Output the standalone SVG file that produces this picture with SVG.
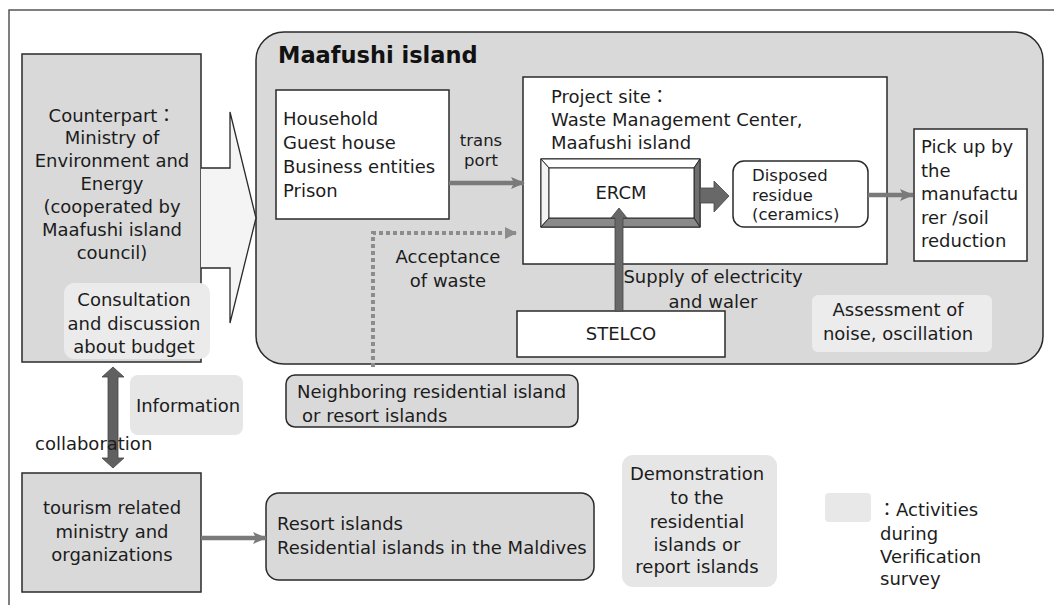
<svg xmlns="http://www.w3.org/2000/svg" width="1054" height="605" viewBox="0 0 1054 605">
  <style>
    .t { font-family: "DejaVu Sans", "Noto Sans CJK JP", sans-serif; font-size: 18px; fill: #1c1c1c; }
    .s { font-size: 16.5px; }
    .c { text-anchor: middle; }
    .title { font-family: "DejaVu Sans", sans-serif; font-size: 22.5px; font-weight: bold; fill: #111; }
    .box { stroke: #2a2a2a; stroke-width: 1.5; }
    .gray { fill: #d9d9d9; }
    .white { fill: #ffffff; }
    .act { fill: #ebebeb; stroke: none; }
    .flow { fill: none; stroke: #7a7a7a; stroke-width: 4.5; }
    .dotted { fill: none; stroke: #8c8c8c; stroke-width: 4; stroke-dasharray: 4 3; }
    .solid { fill: #686868; stroke: #444; stroke-width: 0.8; }
  </style>
  <defs>
    <marker id="ah" viewBox="0 0 14 12" refX="13" refY="6" markerWidth="14" markerHeight="12" markerUnits="userSpaceOnUse" orient="auto">
      <path d="M0,0 L14,6 L0,12 L3,6 Z" fill="#7a7a7a"/>
    </marker>
    <marker id="ahd" viewBox="0 0 12 12" refX="11" refY="6" markerWidth="12" markerHeight="12" markerUnits="userSpaceOnUse" orient="auto">
      <path d="M0,0 L12,6 L0,12 Z" fill="#8c8c8c"/>
    </marker>
  </defs>

  <rect width="1054" height="605" fill="#ffffff"/>
  <!-- outer frame -->
  <polyline points="1054,10 9,10 9,605" fill="none" stroke="#555" stroke-width="1.5"/>

  <!-- Maafushi island area -->
  <g id="maafushi">
    <rect x="256" y="32" width="787" height="332" rx="28" class="box gray"/>
    <text x="278" y="63" class="title">Maafushi island</text>
  </g>

  <!-- counterpart ministry -->
  <g id="counterpart">
    <rect x="22" y="54" width="179" height="308" class="box gray"/>
    <text class="t c" x="112" y="122">Counterpart：</text>
    <text class="t c" x="112" y="144">Ministry of</text>
    <text class="t c" x="112" y="167">Environment and</text>
    <text class="t c" x="112" y="190">Energy</text>
    <text class="t c" x="112" y="213">(cooperated by</text>
    <text class="t c" x="112" y="236">Maafushi island</text>
    <text class="t c" x="112" y="259">council)</text>
  </g>

  <!-- consultation activity -->
  <g id="consultation">
    <rect x="64" y="283" width="146" height="76" rx="10" class="act"/>
    <text class="t c" x="134" y="306">Consultation</text>
    <text class="t c" x="134" y="330">and discussion</text>
    <text class="t c" x="134" y="353">about budget</text>
  </g>

  <!-- chevron from counterpart into the island -->
  <g id="chevron">
    <polygon points="201,168 230,168 230,112 256,218 230,323 230,268 201,268" fill="#f4f4f4" stroke="none"/>
    <polyline points="201,168 230,168 230,112 256,218 230,323 230,268 201,268" fill="none" stroke="#2a2a2a" stroke-width="1.3"/>
  </g>

  <!-- waste sources -->
  <g id="sources">
    <rect x="276" y="90" width="173" height="129" class="box white"/>
    <text class="t" x="283" y="125">Household</text>
    <text class="t" x="283" y="149">Guest house</text>
    <text class="t" x="283" y="173">Business entities</text>
    <text class="t" x="283" y="197">Prison</text>
  </g>

  <!-- project site -->
  <g id="project-site">
    <rect x="523" y="77" width="364" height="187" class="box white"/>
    <text class="t" x="551" y="103">Project site：</text>
    <text class="t" x="551" y="126">Waste Management Center,</text>
    <text class="t" x="551" y="149">Maafushi island</text>
  </g>

  <!-- ERCM bevelled box -->
  <g id="ercm">
    <rect x="541" y="159" width="159" height="68" fill="#fff" stroke="#2a2a2a" stroke-width="1.3"/>
    <polygon points="541,159 700,159 694,168 549,168" fill="#ffffff" stroke="#2a2a2a" stroke-width="1"/>
    <polygon points="541,159 549,168 549,218 541,227" fill="#f3f3f3" stroke="#2a2a2a" stroke-width="1"/>
    <polygon points="700,159 700,227 694,218 694,168" fill="#6e6e6e" stroke="#2a2a2a" stroke-width="1"/>
    <polygon points="541,227 700,227 694,218 549,218" fill="#8a8a8a" stroke="#2a2a2a" stroke-width="1"/>
    <rect x="549" y="168" width="145" height="50" fill="#fff" stroke="#2a2a2a" stroke-width="1"/>
    <text class="t c" x="621" y="199">ERCM</text>
  </g>

  <!-- disposed residue -->
  <g id="residue">
    <rect x="733" y="161" width="135" height="66" rx="11" class="box white"/>
    <text class="t s" x="752" y="181">Disposed</text>
    <text class="t s" x="752" y="200.5">residue</text>
    <text class="t s" x="752" y="220">(ceramics)</text>
  </g>

  <!-- pick up -->
  <g id="pickup">
    <rect x="914" y="129" width="113" height="132" class="box white"/>
    <text class="t" x="921" y="153">Pick up by</text>
    <text class="t" x="921" y="177">the</text>
    <text class="t" x="921" y="200">manufactu</text>
    <text class="t" x="921" y="224">rer /soil</text>
    <text class="t" x="921" y="247">reduction</text>
  </g>

  <!-- STELCO -->
  <g id="stelco">
    <rect x="517" y="311" width="208" height="46" class="box white"/>
    <text class="t c" x="621" y="340">STELCO</text>
  </g>

  <!-- assessment activity -->
  <g id="assessment">
    <rect x="812" y="295" width="180" height="57" rx="6" fill="#ececec"/>
    <text class="t c" x="898" y="316">Assessment of</text>
    <text class="t c" x="898" y="340">noise, oscillation</text>
  </g>

  <!-- neighbouring islands -->
  <g id="neighboring">
    <rect x="286" y="375" width="292" height="52" rx="9" class="box gray"/>
    <text class="t" x="297" y="398">Neighboring residential island</text>
    <text class="t" x="302" y="422">or resort islands</text>
  </g>

  <!-- information activity -->
  <g id="information">
    <rect x="130" y="375" width="113" height="60" rx="8" fill="#e6e6e6"/>
    <text class="t c" x="188" y="412">Information</text>
  </g>

  <!-- tourism ministry -->
  <g id="tourism">
    <rect x="22" y="473" width="179" height="119" class="box gray"/>
    <text class="t c" x="112" y="514">tourism related</text>
    <text class="t c" x="112" y="538">ministry and</text>
    <text class="t c" x="112" y="561">organizations</text>
  </g>

  <!-- resort / residential islands -->
  <g id="islands">
    <rect x="266" y="493" width="328" height="87" rx="13" class="box gray"/>
    <text class="t" x="277" y="530">Resort islands</text>
    <text class="t" x="277" y="554">Residential islands in the Maldives</text>
  </g>

  <!-- demonstration activity -->
  <g id="demonstration">
    <rect x="622" y="455" width="155" height="132" rx="11" fill="#e6e6e6"/>
    <text class="t c" x="697" y="480">Demonstration</text>
    <text class="t c" x="697" y="504">to the</text>
    <text class="t c" x="697" y="528">residential</text>
    <text class="t c" x="697" y="551">islands or</text>
    <text class="t c" x="697" y="573">report islands</text>
  </g>

  <!-- legend -->
  <g id="legend">
    <rect x="825" y="493" width="46" height="29" rx="4" fill="#e8e8e8"/>
    <text class="t" x="878" y="516">：Activities</text>
    <text class="t" x="880" y="540">during</text>
    <text class="t" x="880" y="563">Verification</text>
    <text class="t" x="880" y="585">survey</text>
  </g>

  <!-- connectors -->
  <g id="connectors">
    <line x1="449" y1="183" x2="524" y2="183" class="flow" marker-end="url(#ah)"/>
    <text class="t s c" x="481" y="146">trans</text>
    <text class="t s c" x="481" y="165.5">port</text>

    <path d="M373,367 V233 H516" class="dotted" marker-end="url(#ahd)"/>
    <text class="t c" x="448" y="263">Acceptance</text>
    <text class="t c" x="448" y="287">of waste</text>

    <polygon points="700,188 714,188 714,181 729,196 714,212 714,203 700,203" class="solid"/>

    <line x1="868" y1="195" x2="913" y2="195" class="flow" marker-end="url(#ah)"/>

    <path d="M615,311 V218 H611 L619,208 L627,218 H623 V311 Z" class="solid"/>
    <text class="t c" x="713" y="283">Supply of electricity</text>
    <text class="t c" x="713" y="308">and waler</text>

    <polygon points="113,367 124,377 118,377 118,458 124,458 113,468 102,458 108,458 108,377 102,377" fill="#606060" stroke="#444" stroke-width="0.8"/>
    <text class="t" x="35" y="450">collaboration</text>

    <line x1="201" y1="538" x2="266" y2="538" class="flow" marker-end="url(#ah)"/>
  </g>
</svg>
